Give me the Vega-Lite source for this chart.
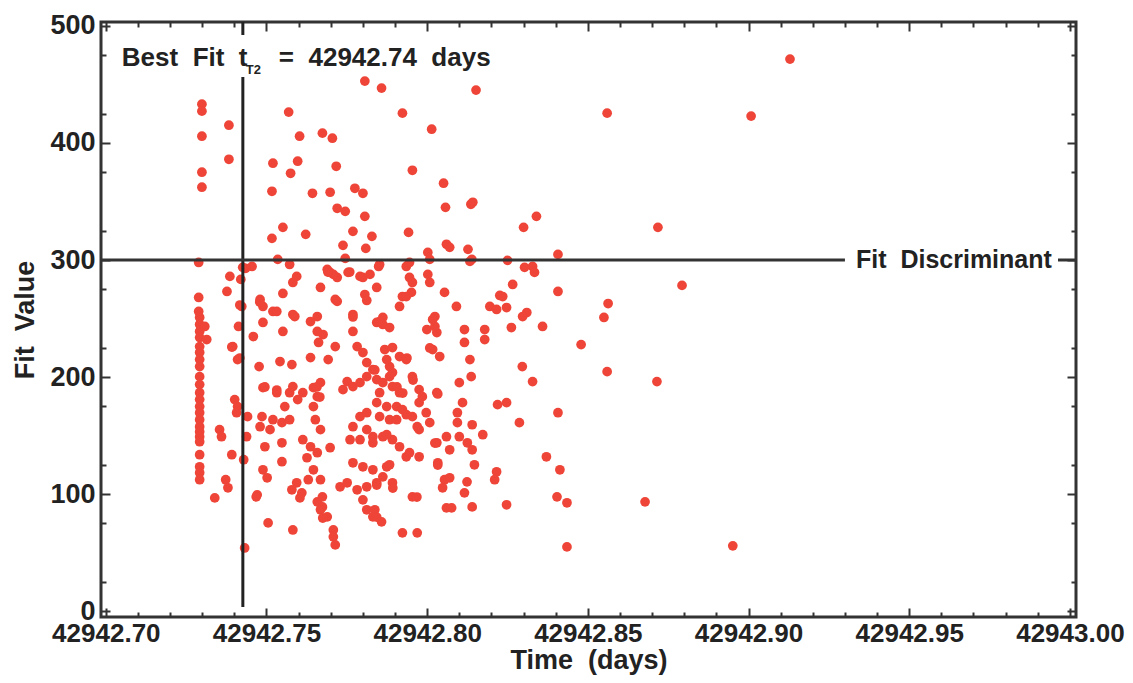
{
  "$schema": "https://vega.github.io/schema/vega-lite/v6.json",
  "width": 975,
  "height": 595,
  "autosize": "none",
  "padding": {"left": 101, "top": 22, "right": 57, "bottom": 66},
  "background": "white",
  "config": {"view": {"stroke": "#333333", "strokeWidth": 3}, "font": "Liberation Sans"},
  "datasets": {
    "pts": [
      {"t":42942.9129,"v":471.7},{"t":42942.9008,"v":423.0},{"t":42942.8560,"v":425.5},{"t":42942.7806,"v":452.9},{"t":42942.7858,"v":446.9},
      {"t":42942.8152,"v":445.2},{"t":42942.7923,"v":425.5},{"t":42942.8014,"v":411.8},{"t":42942.7569,"v":426.4},{"t":42942.7603,"v":405.8},
      {"t":42942.7674,"v":408.4},{"t":42942.7705,"v":404.1},{"t":42942.7520,"v":382.7},{"t":42942.7597,"v":384.4},{"t":42942.7575,"v":374.1},
      {"t":42942.7717,"v":380.1},{"t":42942.7954,"v":376.7},{"t":42942.8051,"v":365.6},{"t":42942.7517,"v":358.7},{"t":42942.7643,"v":357.0},
      {"t":42942.7698,"v":357.9},{"t":42942.7775,"v":361.3},{"t":42942.7800,"v":357.0},{"t":42942.7720,"v":344.2},{"t":42942.7745,"v":341.6},
      {"t":42942.7806,"v":337.3},{"t":42942.8057,"v":345.0},{"t":42942.8136,"v":347.6},{"t":42942.8142,"v":349.3},{"t":42942.7551,"v":327.9},
      {"t":42942.7517,"v":318.5},{"t":42942.7622,"v":321.9},{"t":42942.7769,"v":324.5},{"t":42942.7828,"v":320.2},{"t":42942.7942,"v":323.6},
      {"t":42942.7738,"v":312.5},{"t":42942.7809,"v":309.9},{"t":42942.8002,"v":306.5},{"t":42942.8060,"v":313.4},{"t":42942.8070,"v":310.8},
      {"t":42942.8127,"v":309.1},{"t":42942.8300,"v":327.9},{"t":42942.8340,"v":337.3},{"t":42942.8718,"v":327.9},{"t":42942.8407,"v":304.8},
      {"t":42942.8139,"v":300.5},{"t":42942.8250,"v":299.7},{"t":42942.8008,"v":300.5},{"t":42942.7299,"v":433.2},{"t":42942.7299,"v":427.2},
      {"t":42942.7299,"v":405.8},{"t":42942.7383,"v":415.2},{"t":42942.7383,"v":386.1},{"t":42942.7299,"v":375.0},{"t":42942.7299,"v":362.2},
      {"t":42942.7289,"v":297.9},{"t":42942.7455,"v":294.5},{"t":42942.7435,"v":292.8},{"t":42942.7535,"v":300.5},{"t":42942.7572,"v":296.2},
      {"t":42942.7745,"v":301.4},{"t":42942.7698,"v":289.4},{"t":42942.7720,"v":285.1},{"t":42942.7754,"v":289.4},{"t":42942.7791,"v":286.0},
      {"t":42942.7822,"v":287.7},{"t":42942.7849,"v":294.5},{"t":42942.7935,"v":294.5},{"t":42942.7945,"v":285.1},{"t":42942.8002,"v":287.7},
      {"t":42942.8008,"v":280.8},{"t":42942.7386,"v":286.0},{"t":42942.7377,"v":273.1},{"t":42942.7426,"v":293.7},{"t":42942.7420,"v":283.4},
      {"t":42942.7551,"v":271.4},{"t":42942.7582,"v":280.8},{"t":42942.7594,"v":286.0},{"t":42942.7668,"v":276.5},{"t":42942.7714,"v":266.3},
      {"t":42942.7806,"v":270.5},{"t":42942.7812,"v":265.4},{"t":42942.7843,"v":276.5},{"t":42942.7923,"v":268.8},{"t":42942.7914,"v":260.3},
      {"t":42942.7951,"v":272.3},{"t":42942.8054,"v":272.3},{"t":42942.7289,"v":268.0},{"t":42942.7480,"v":266.3},{"t":42942.7489,"v":260.3},
      {"t":42942.7520,"v":256.0},{"t":42942.7582,"v":253.4},{"t":42942.7658,"v":251.7},{"t":42942.7769,"v":253.4},{"t":42942.7862,"v":250.9},
      {"t":42942.8024,"v":251.7},{"t":42942.7289,"v":256.0},{"t":42942.7423,"v":260.3},{"t":42942.8303,"v":293.7},{"t":42942.8328,"v":294.5},
      {"t":42942.8334,"v":289.4},{"t":42942.8091,"v":260.3},{"t":42942.8266,"v":279.1},{"t":42942.8226,"v":269.7},{"t":42942.8195,"v":260.3},
      {"t":42942.8216,"v":257.7},{"t":42942.8247,"v":259.4},{"t":42942.8310,"v":255.1},{"t":42942.8407,"v":273.1},{"t":42942.8563,"v":262.8},
      {"t":42942.8550,"v":250.9},{"t":42942.8793,"v":278.3},{"t":42942.7954,"v":280.8},{"t":42942.7945,"v":297.9},{"t":42942.7852,"v":296.2},
      {"t":42942.7999,"v":240.6},{"t":42942.8133,"v":298.8},{"t":42942.8235,"v":268.8},{"t":42942.8297,"v":251.7},{"t":42942.7708,"v":287.7},
      {"t":42942.7689,"v":292.0},{"t":42942.7800,"v":285.1},
      {"t":42942.7292,"v":250.9},{"t":42942.7292,"v":244.9},{"t":42942.7292,"v":238.9},{"t":42942.7292,"v":233.7},{"t":42942.7292,"v":226.0},
      {"t":42942.7292,"v":220.9},{"t":42942.7292,"v":214.9},{"t":42942.7292,"v":208.9},{"t":42942.7292,"v":200.3},{"t":42942.7292,"v":193.5},
      {"t":42942.7292,"v":186.6},{"t":42942.7292,"v":180.7},{"t":42942.7292,"v":174.7},{"t":42942.7292,"v":169.5},{"t":42942.7292,"v":163.5},
      {"t":42942.7292,"v":157.5},{"t":42942.7292,"v":153.3},{"t":42942.7292,"v":149.0},{"t":42942.7292,"v":144.7},{"t":42942.7292,"v":133.6},
      {"t":42942.7292,"v":123.3},{"t":42942.7292,"v":118.2},{"t":42942.7292,"v":112.2},{"t":42942.7308,"v":243.2},{"t":42942.7314,"v":232.0},
      {"t":42942.7413,"v":243.2},{"t":42942.7395,"v":226.0},{"t":42942.7410,"v":214.9},{"t":42942.7401,"v":180.7},{"t":42942.7410,"v":174.7},
      {"t":42942.7407,"v":169.5},{"t":42942.7354,"v":155.0},{"t":42942.7360,"v":149.0},{"t":42942.7392,"v":133.6},{"t":42942.7373,"v":112.2},
      {"t":42942.7380,"v":105.3},{"t":42942.7339,"v":96.7},{"t":42942.7432,"v":53.9},{"t":42942.7429,"v":129.3},{"t":42942.7438,"v":149.0},
      {"t":42942.7441,"v":166.1},{"t":42942.7471,"v":99.3},
      {"t":42942.7459,"v":234.6},{"t":42942.7477,"v":208.9},{"t":42942.7489,"v":190.9},{"t":42942.7486,"v":166.1},{"t":42942.7480,"v":157.5},
      {"t":42942.7495,"v":140.4},{"t":42942.7489,"v":120.7},{"t":42942.7502,"v":113.9},{"t":42942.7468,"v":97.6},{"t":42942.7505,"v":75.3},
      {"t":42942.7489,"v":246.6},{"t":42942.7588,"v":251.7},{"t":42942.7551,"v":238.9},{"t":42942.7542,"v":213.2},{"t":42942.7579,"v":210.6},
      {"t":42942.7532,"v":186.6},{"t":42942.7557,"v":174.7},{"t":42942.7520,"v":163.5},{"t":42942.7548,"v":161.0},{"t":42942.7572,"v":163.5},
      {"t":42942.7511,"v":155.0},{"t":42942.7548,"v":143.8},{"t":42942.7548,"v":127.6},{"t":42942.7594,"v":109.6},{"t":42942.7579,"v":103.6},
      {"t":42942.7604,"v":96.7},{"t":42942.7582,"v":69.3},{"t":42942.7610,"v":101.0},{"t":42942.7676,"v":236.3},{"t":42942.7572,"v":186.6},
      {"t":42942.7597,"v":180.7},{"t":42942.7532,"v":256.0},
      {"t":42942.7637,"v":247.4},{"t":42942.7658,"v":238.9},{"t":42942.7662,"v":229.5},{"t":42942.7637,"v":216.6},{"t":42942.7692,"v":214.9},
      {"t":42942.7714,"v":226.0},{"t":42942.7720,"v":264.6},{"t":42942.7582,"v":191.8},{"t":42942.7613,"v":186.6},{"t":42942.7646,"v":190.9},
      {"t":42942.7668,"v":195.2},{"t":42942.7658,"v":183.2},{"t":42942.7646,"v":174.7},{"t":42942.7652,"v":163.5},{"t":42942.7668,"v":155.0},
      {"t":42942.7613,"v":146.4},{"t":42942.7637,"v":140.4},{"t":42942.7658,"v":135.3},{"t":42942.7626,"v":131.0},{"t":42942.7698,"v":139.6},
      {"t":42942.7646,"v":120.7},{"t":42942.7668,"v":112.2},{"t":42942.7630,"v":112.2},{"t":42942.7674,"v":97.6},{"t":42942.7674,"v":89.0},
      {"t":42942.7689,"v":80.5},{"t":42942.7708,"v":69.3},{"t":42942.7714,"v":56.5},{"t":42942.7708,"v":63.4},{"t":42942.7668,"v":86.5},
      {"t":42942.7658,"v":93.3},
      {"t":42942.7769,"v":238.9},{"t":42942.7843,"v":246.6},{"t":42942.7862,"v":244.9},{"t":42942.7883,"v":242.3},{"t":42942.7782,"v":226.0},
      {"t":42942.7800,"v":220.9},{"t":42942.7812,"v":212.3},{"t":42942.7831,"v":206.3},{"t":42942.7868,"v":223.5},{"t":42942.7892,"v":225.2},
      {"t":42942.7914,"v":217.5},{"t":42942.7935,"v":214.9},{"t":42942.7883,"v":208.9},{"t":42942.7751,"v":196.1},{"t":42942.7738,"v":189.2},
      {"t":42942.7769,"v":191.8},{"t":42942.7791,"v":195.2},{"t":42942.7812,"v":200.3},{"t":42942.7843,"v":197.8},{"t":42942.7883,"v":200.3},
      {"t":42942.7892,"v":191.8},{"t":42942.7914,"v":186.6},{"t":42942.7852,"v":186.6},{"t":42942.7843,"v":178.1},{"t":42942.7874,"v":174.7},
      {"t":42942.7905,"v":174.7},{"t":42942.7791,"v":166.1},{"t":42942.7812,"v":169.5},{"t":42942.7769,"v":157.5},{"t":42942.7812,"v":155.0},
      {"t":42942.7831,"v":149.0},{"t":42942.7791,"v":146.4},{"t":42942.7760,"v":146.4},{"t":42942.7862,"v":149.0},{"t":42942.7892,"v":146.4},
      {"t":42942.7914,"v":140.4},{"t":42942.7935,"v":131.8},{"t":42942.7883,"v":163.5},{"t":42942.7923,"v":172.1},{"t":42942.7954,"v":166.1},
      {"t":42942.7769,"v":126.7},{"t":42942.7800,"v":123.3},{"t":42942.7831,"v":120.7},{"t":42942.7874,"v":123.3},{"t":42942.7862,"v":114.7},
      {"t":42942.7892,"v":109.6},{"t":42942.7729,"v":106.2},{"t":42942.7751,"v":109.6},{"t":42942.7782,"v":103.6},{"t":42942.7812,"v":106.2},
      {"t":42942.7843,"v":109.6},{"t":42942.7800,"v":95.0},{"t":42942.7812,"v":86.5},{"t":42942.7831,"v":80.5},{"t":42942.7858,"v":76.2},
      {"t":42942.7923,"v":66.8},{"t":42942.7969,"v":66.8},{"t":42942.7954,"v":97.6},
      {"t":42942.7954,"v":200.3},{"t":42942.7975,"v":189.2},{"t":42942.7985,"v":183.2},{"t":42942.7975,"v":178.1},{"t":42942.7997,"v":169.5},
      {"t":42942.8008,"v":161.0},{"t":42942.7975,"v":155.0},{"t":42942.8030,"v":143.8},{"t":42942.8033,"v":126.7},{"t":42942.8030,"v":186.6},
      {"t":42942.8017,"v":249.1},{"t":42942.8030,"v":238.0},{"t":42942.8017,"v":223.5},{"t":42942.8039,"v":217.5},{"t":42942.7935,"v":268.8},
      {"t":42942.8060,"v":149.0},{"t":42942.8054,"v":112.2},{"t":42942.8060,"v":88.2},
      {"t":42942.7852,"v":247.4},{"t":42942.8024,"v":243.2},{"t":42942.8116,"v":240.6},{"t":42942.8179,"v":240.6},{"t":42942.8179,"v":232.0},
      {"t":42942.8116,"v":229.5},{"t":42942.8262,"v":242.3},{"t":42942.8359,"v":243.2},{"t":42942.8133,"v":214.9},{"t":42942.8296,"v":208.9},
      {"t":42942.8328,"v":196.1},{"t":42942.8137,"v":200.3},{"t":42942.8100,"v":195.2},{"t":42942.7874,"v":214.9},{"t":42942.7892,"v":203.8},
      {"t":42942.7862,"v":195.2},{"t":42942.8110,"v":178.1},{"t":42942.8219,"v":176.4},{"t":42942.8247,"v":178.1},{"t":42942.8094,"v":169.5},
      {"t":42942.8407,"v":169.5},
      {"t":42942.8287,"v":161.0},{"t":42942.8094,"v":161.0},{"t":42942.8140,"v":159.2},{"t":42942.8173,"v":150.7},{"t":42942.8100,"v":149.0},
      {"t":42942.8125,"v":143.8},{"t":42942.8070,"v":137.8},{"t":42942.8140,"v":137.8},{"t":42942.7969,"v":157.5},{"t":42942.7905,"v":163.5},
      {"t":42942.7935,"v":167.8},{"t":42942.7852,"v":166.1},{"t":42942.7831,"v":143.8},{"t":42942.7874,"v":150.7},{"t":42942.7945,"v":135.3},
      {"t":42942.7975,"v":131.8},{"t":42942.7883,"v":125.0},{"t":42942.8147,"v":125.0},{"t":42942.8070,"v":113.9},{"t":42942.8048,"v":105.3},
      {"t":42942.8124,"v":110.4},{"t":42942.8116,"v":101.0},{"t":42942.8216,"v":119.0},{"t":42942.8210,"v":112.2},{"t":42942.8076,"v":88.2},
      {"t":42942.8140,"v":89.0},{"t":42942.8247,"v":90.8},{"t":42942.8371,"v":131.8},{"t":42942.8413,"v":120.7},{"t":42942.8404,"v":97.6},
      {"t":42942.8435,"v":92.5},{"t":42942.7837,"v":86.5},{"t":42942.8435,"v":54.8},
      {"t":42942.8479,"v":227.7},{"t":42942.8560,"v":204.6},{"t":42942.8715,"v":196.1},{"t":42942.8678,"v":93.3},{"t":42942.8951,"v":55.7},
      {"t":42942.7417,"v":261.5},{"t":42942.7392,"v":225.6},{"t":42942.7417,"v":216.2},{"t":42942.7479,"v":264.1},{"t":42942.7532,"v":188.9},
      {"t":42942.7495,"v":191.5},{"t":42942.7657,"v":191.5},{"t":42942.7666,"v":182.9},{"t":42942.7843,"v":80.3},{"t":42942.7675,"v":79.5},
      {"t":42942.7691,"v":289.7},{"t":42942.7759,"v":289.7},{"t":42942.7769,"v":251.3},{"t":42942.8008,"v":224.8},{"t":42942.7937,"v":216.2},
      {"t":42942.7837,"v":206.0},{"t":42942.7956,"v":197.4},{"t":42942.7906,"v":191.5},{"t":42942.7924,"v":186.3},{"t":42942.8024,"v":143.6},
      {"t":42942.8033,"v":124.8},{"t":42942.7843,"v":107.7},{"t":42942.7893,"v":105.1},{"t":42942.7968,"v":97.4},{"t":42942.8033,"v":185.5}
    ],
    "vrule": [
      {"t": 42942.74264, "v": 3.4, "v2": 456.4},
      {"t": 42942.74264, "v": 492.3, "v2": 503.4}
    ],
    "hrule": [
      {"t": 42942.6985, "t2": 42942.9300, "v": 300},
      {"t": 42942.99629, "t2": 42943.0019, "v": 300}
    ],
    "main": [
      {"t": 42942.70498, "v": 465.8, "label": "Best\u00a0\u00a0Fit\u00a0\u00a0t"},
      {"t": 42942.75384, "v": 465.8, "label": "=\u00a0\u00a042942.74\u00a0\u00a0days"}
    ],
    "sub": [
      {"t": 42942.74357, "v": 459, "label": "T2"}
    ],
    "fd": [
      {"t": 42942.93343, "v": 293.2, "label": "Fit\u00a0\u00a0Discriminant"}
    ]
  },
  "resolve": {"axis": {"x": "independent", "y": "independent"}},
  "layer": [
    {
      "data": {"name": "pts"},
      "mark": {"type": "circle", "size": 95, "color": "#ee4538", "opacity": 1},
      "encoding": {
        "x": {
          "field": "t", "type": "quantitative",
          "scale": {"domain": [42942.6985, 42943.0019], "nice": false, "zero": false},
          "axis": {
            "orient": "bottom",
            "values": [42942.7, 42942.75, 42942.8, 42942.85, 42942.9, 42942.95, 42943],
            "format": ".2f", "domain": false, "grid": false,
            "tickSize": -9, "tickWidth": 2, "tickColor": "#333333",
            "labelFont": "Liberation Sans", "labelFontWeight": "bold", "labelFontSize": 26,
            "labelColor": "#222222", "labelPadding": 12, "labelFlush": false, "labelOverlap": false,
            "title": "Time\u00a0\u00a0(days)", "titleFont": "Liberation Sans", "titleFontSize": 27,
            "titleFontWeight": "bold", "titleColor": "#222222", "titlePadding": 1
          }
        },
        "y": {
          "field": "v", "type": "quantitative",
          "scale": {"domain": [-5.1, 503.4], "nice": false, "zero": false},
          "axis": {
            "orient": "left",
            "values": [0, 100, 200, 300, 400, 500],
            "domain": false, "grid": false,
            "tickSize": -9, "tickWidth": 2, "tickColor": "#333333",
            "labelFont": "Liberation Sans", "labelFontWeight": "bold", "labelFontSize": 27,
            "labelColor": "#222222", "labelPadding": 15, "labelFlush": false, "labelOverlap": false,
            "title": "Fit\u00a0\u00a0Value", "titleFont": "Liberation Sans", "titleFontSize": 27,
            "titleFontWeight": "bold", "titleColor": "#222222", "titlePadding": 10
          }
        }
      }
    },
    {
      "data": {"name": "vrule"},
      "mark": {"type": "rule", "color": "#222222", "strokeWidth": 3},
      "encoding": {
        "x": {
          "field": "t", "type": "quantitative",
          "scale": {"domain": [42942.6985, 42943.0019], "nice": false, "zero": false},
          "axis": {
            "orient": "bottom",
            "values": [42942.71, 42942.72, 42942.73, 42942.74, 42942.76, 42942.77, 42942.78, 42942.79, 42942.81, 42942.82, 42942.83, 42942.84, 42942.86, 42942.87, 42942.88, 42942.89, 42942.91, 42942.92, 42942.93, 42942.94, 42942.96, 42942.97, 42942.98, 42942.99],
            "labels": false, "domain": false, "grid": false, "title": null,
            "tickSize": -5, "tickWidth": 2, "tickColor": "#333333"
          }
        },
        "y": {
          "field": "v", "type": "quantitative",
          "scale": {"domain": [-5.1, 503.4], "nice": false, "zero": false},
          "axis": {
            "orient": "left",
            "values": [25, 75, 125, 175, 225, 275, 325, 375, 425, 475],
            "labels": false, "domain": false, "grid": false, "title": null,
            "tickSize": -5, "tickWidth": 2, "tickColor": "#333333"
          }
        },
        "y2": {"field": "v2"}
      }
    },
    {
      "data": {"name": "hrule"},
      "mark": {"type": "rule", "color": "#333333", "strokeWidth": 3},
      "encoding": {
        "x": {
          "field": "t", "type": "quantitative",
          "scale": {"domain": [42942.6985, 42943.0019], "nice": false, "zero": false},
          "axis": {
            "orient": "top",
            "values": [42942.7, 42942.75, 42942.8, 42942.85, 42942.9, 42942.95, 42943],
            "labels": false, "domain": false, "grid": false, "title": null,
            "tickSize": -9, "tickWidth": 2, "tickColor": "#333333"
          }
        },
        "x2": {"field": "t2"},
        "y": {
          "field": "v", "type": "quantitative",
          "scale": {"domain": [-5.1, 503.4], "nice": false, "zero": false},
          "axis": {
            "orient": "right",
            "values": [0, 100, 200, 300, 400, 500],
            "labels": false, "domain": false, "grid": false, "title": null,
            "tickSize": -9, "tickWidth": 2, "tickColor": "#333333"
          }
        }
      }
    },
    {
      "data": {"name": "main"},
      "mark": {"type": "text", "align": "left", "baseline": "alphabetic", "font": "Liberation Sans", "fontWeight": "bold", "fontSize": 26, "color": "#222222"},
      "encoding": {
        "x": {
          "field": "t", "type": "quantitative",
          "scale": {"domain": [42942.6985, 42943.0019], "nice": false, "zero": false},
          "axis": {
            "orient": "top",
            "values": [42942.71, 42942.72, 42942.73, 42942.74, 42942.76, 42942.77, 42942.78, 42942.79, 42942.81, 42942.82, 42942.83, 42942.84, 42942.86, 42942.87, 42942.88, 42942.89, 42942.91, 42942.92, 42942.93, 42942.94, 42942.96, 42942.97, 42942.98, 42942.99],
            "labels": false, "domain": false, "grid": false, "title": null,
            "tickSize": -5, "tickWidth": 2, "tickColor": "#333333"
          }
        },
        "y": {
          "field": "v", "type": "quantitative",
          "scale": {"domain": [-5.1, 503.4], "nice": false, "zero": false},
          "axis": {
            "orient": "right",
            "values": [25, 75, 125, 175, 225, 275, 325, 375, 425, 475],
            "labels": false, "domain": false, "grid": false, "title": null,
            "tickSize": -5, "tickWidth": 2, "tickColor": "#333333"
          }
        },
        "text": {"field": "label", "type": "nominal"}
      }
    },
    {
      "data": {"name": "sub"},
      "mark": {"type": "text", "align": "left", "baseline": "alphabetic", "font": "Liberation Sans", "fontWeight": "bold", "fontSize": 13, "color": "#222222"},
      "encoding": {
        "x": {"field": "t", "type": "quantitative", "scale": {"domain": [42942.6985, 42943.0019], "nice": false, "zero": false}, "axis": null},
        "y": {"field": "v", "type": "quantitative", "scale": {"domain": [-5.1, 503.4], "nice": false, "zero": false}, "axis": null},
        "text": {"field": "label", "type": "nominal"}
      }
    },
    {
      "data": {"name": "fd"},
      "mark": {"type": "text", "align": "left", "baseline": "alphabetic", "font": "Liberation Sans", "fontWeight": "bold", "fontSize": 25, "color": "#222222"},
      "encoding": {
        "x": {"field": "t", "type": "quantitative", "scale": {"domain": [42942.6985, 42943.0019], "nice": false, "zero": false}, "axis": null},
        "y": {"field": "v", "type": "quantitative", "scale": {"domain": [-5.1, 503.4], "nice": false, "zero": false}, "axis": null},
        "text": {"field": "label", "type": "nominal"}
      }
    }
  ]
}
